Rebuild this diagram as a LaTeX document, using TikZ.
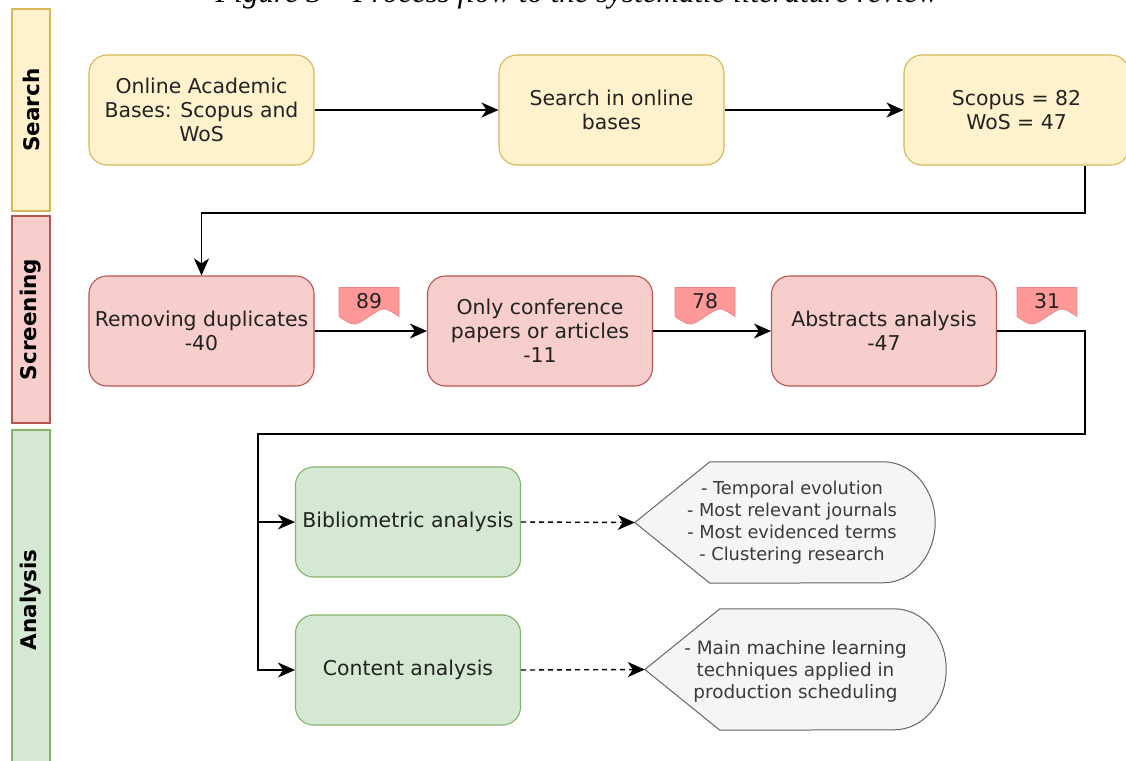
\documentclass[tikz,border=0pt]{standalone}
\usepackage{fontspec}
\setmainfont{DejaVu Sans}
\newfontfamily\capfont{Liberation Serif}
\usetikzlibrary{arrows.meta,calc,backgrounds}

\definecolor{yelfill}{HTML}{FFF2CC}
\definecolor{yelline}{HTML}{D6B656}
\definecolor{redfill}{HTML}{F8CECC}
\definecolor{redline}{HTML}{B85450}
\definecolor{grnfill}{HTML}{D5E8D4}
\definecolor{grnline}{HTML}{82B366}
\definecolor{gryfill}{HTML}{F5F5F5}
\definecolor{gryline}{HTML}{666666}
\definecolor{grytext}{HTML}{3A3A3A}
\definecolor{boxtext}{HTML}{222222}
\definecolor{tagfill}{HTML}{FF9999}
\definecolor{tagline}{HTML}{EE8585}

\newcommand\mainfont{\fontsize{20.4}{24}\selectfont}
\newcommand\notefont{\fontsize{17.8}{22}\selectfont}

% flag-like document shape with a wavy bottom, centred on a coordinate
\newcommand\tagflag[1]{%
  \draw[fill=tagfill,draw=tagline,line width=0.8pt]
    ($(#1)+(-30,-14)$) -- ($(#1)+(30,-14)$) -- ($(#1)+(30,15)$)
    .. controls ($(#1)+(15,5)$) .. ($(#1)+(0,15)$)
    .. controls ($(#1)+(-15,25)$) .. ($(#1)+(-30,15)$) -- cycle;}

% display shape: pointed left end, half-elliptic right end
\newcommand\displayshape[1]{%
  \draw[fill=gryfill,draw=gryline,line width=1pt]
    (#1.west) -- ($(#1.north west)+(75,0)$) -- ($(#1.north east)+(-52,0)$)
    arc[start angle=90, end angle=-90, x radius=52pt, y radius=60.5pt]
    -- ($(#1.south west)+(75,0)$) -- cycle;}

\tikzset{
  lane/.style={rectangle, rotate=90, minimum height=38pt, line width=1.2pt,
    font=\fontsize{21.5}{21.5}\selectfont\bfseries, inner sep=0pt},
  box/.style={rectangle, rounded corners=18pt, minimum width=225pt,
    minimum height=110pt, align=center, line width=1.1pt, font=\mainfont,
    text=boxtext, inner sep=2pt},
  ybox/.style={box, fill=yelfill, draw=yelline},
  rbox/.style={box, fill=redfill, draw=redline},
  gbox/.style={box, fill=grnfill, draw=grnline},
  frame/.style={rectangle, minimum height=121pt, inner sep=0pt},
  note/.style={align=center, font=\notefont, text=grytext, inner sep=0pt},
  tagtext/.style={font=\mainfont, text=boxtext, inner sep=0pt},
  arr/.style={line width=1.4pt, -{Stealth[length=17pt,width=15pt,inset=5pt]}},
  darr/.style={arr, dash pattern=on 5pt off 4pt},
}

\begin{document}
\begin{tikzpicture}[x=1pt,y=-1pt]
\useasboundingbox (0,0) rectangle (1126,760);

% caption line above the chart
\node[anchor=base, font=\capfont\itshape\fontsize{31}{31}\selectfont]
  (caption) at (577,3) {Figure 3 – Process flow to the systematic literature review};

% phase lanes
\node[lane, fill=yelfill, draw=yelline, minimum width=202pt] (lsearch) at (31,110) {Search};
\node[lane, fill=redfill, draw=redline, minimum width=207pt] (lscreen) at (31,319.5) {Screening};
\node[lane, fill=grnfill, draw=grnline, minimum width=340pt] (lanalysis) at (31,600) {Analysis};

% search phase
\node[ybox] (s1) at (201.5,110) {Online Academic\\Bases: Scopus and\\WoS};
\node[ybox] (s2) at (611.5,110) {Search in online\\bases};
\node[ybox] (s3) at (1016.5,110) {Scopus = 82\\WoS = 47};

% screening phase
\node[rbox] (r1) at (201.5,331) {Removing duplicates\\-40};
\node[rbox] (r2) at (540,331) {Only conference\\papers or articles\\-11};
\node[rbox] (r3) at (884,331) {Abstracts analysis\\-47};

% remaining counts
\coordinate (t89c) at (369,301.5);
\coordinate (t78c) at (705,301.5);
\coordinate (t31c) at (1047,301.5);
\tagflag{t89c}\tagflag{t78c}\tagflag{t31c}
\node[tagtext] (t89) at (t89c) {89};
\node[tagtext] (t78) at (t78c) {78};
\node[tagtext] (t31) at (t31c) {31};

% analysis phase
\node[gbox] (a1) at (408,522) {Bibliometric analysis};
\node[gbox] (a2) at (408,670) {Content analysis};

% output shapes and their texts
\node[frame, minimum width=300pt] (d1) at (785,522.5) {};
\node[frame, minimum width=301pt] (d2) at (795.5,669.5) {};
\displayshape{d1}
\displayshape{d2}
\node[note] (d1text) at (792,523)
  {- Temporal evolution\\- Most relevant journals\\- Most evidenced terms\\- Clustering research};
\node[note, font=\fontsize{18.4}{22}\selectfont] (d2text) at (795.5,671)
  {- Main machine learning\\techniques applied in\\production scheduling};

% connectors
\coordinate (k1) at (1085,213);
\coordinate (k2) at (1085,434);
\coordinate (k3) at (258,434);

\draw[arr] (s1) -- (s2);
\draw[arr] (s2) -- (s3);
\draw[arr] (s3.south -| k1) -- (k1) -| (r1.north);
\draw[arr] (r1) -- (r2);
\draw[arr] (r2) -- (r3);
\draw[arr] (r3.east) -| (k2) -- (k3) |- (a2.west);
\draw[arr] (k3 |- a1.west) -- (a1.west);
\draw[darr] (a1.east) -- (d1.west);
\draw[darr] (a2.east) -- (d2.west);
\end{tikzpicture}
\end{document}
